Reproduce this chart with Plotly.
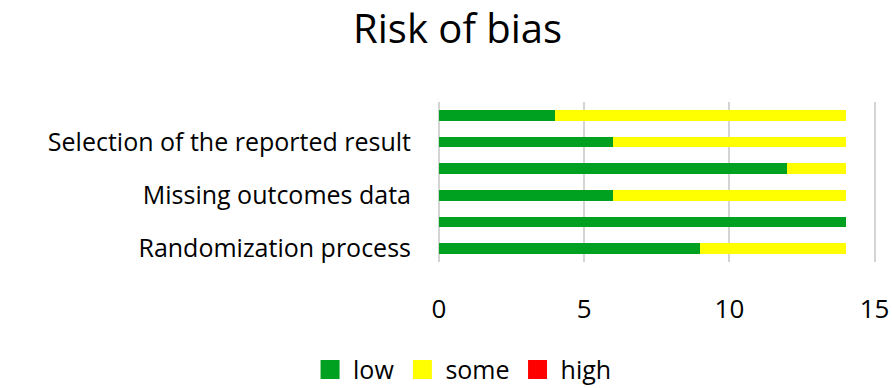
import plotly.graph_objects as go

# Risk-of-bias domains, listed bottom to top
domains = [
    "Randomization process",
    "Deviations from intended interventions",
    "Missing outcomes data",
    "Measurement of the outcome",
    "Selection of the reported result",
    "Overall",
]
low = [9, 14, 6, 12, 6, 4]
some = [5, 0, 8, 2, 8, 10]
high = [0, 0, 0, 0, 0, 0]

# only every other domain gets a visible label
shown_labels = [domains[0], domains[2], domains[4]]
x_ticks = [0, 5, 10, 15]

colors = {"low": "#00a020", "some": "#ffff00", "high": "#ff0000"}
FONT = "Open Sans"
GRID = "#d4d4d4"

fig = go.Figure()
for name, vals in (("low", low), ("some", some), ("high", high)):
    fig.add_trace(go.Bar(
        y=domains, x=vals, name=name, orientation="h",
        marker=dict(color=colors[name], line=dict(width=0)),
        showlegend=False,
    ))
    # legend entry with a larger square swatch (outline in the same colour)
    fig.add_trace(go.Scatter(
        x=[None], y=[None], mode="markers", name=name,
        marker=dict(symbol="square", size=16, color=colors[name],
                    line=dict(color=colors[name], width=3)),
        showlegend=True,
    ))

fig.update_layout(
    width=892, height=388,
    paper_bgcolor="white", plot_bgcolor="white",
    barmode="stack", bargap=0.6,
    margin=dict(l=439, r=16, t=102, b=126, autoexpand=False),
    font=dict(family=FONT, color="#000000"),
    title=dict(text="Risk of bias", x=0.513, xref="container", xanchor="center",
               y=0.925, yref="container", yanchor="middle",
               font=dict(size=40, family=FONT, color="#000000")),
    legend=dict(orientation="h", x=0.518, xanchor="center", xref="container",
                y=0.047, yref="container", yanchor="middle",
                traceorder="normal",
                font=dict(size=25, family=FONT), itemsizing="trace",
                itemwidth=36, tracegroupgap=0),
)
fig.update_xaxes(
    range=[0, 15.05], tickvals=x_ticks, showgrid=True,
    gridcolor=GRID, gridwidth=2,
    zeroline=True, zerolinecolor=GRID, zerolinewidth=2,
    ticks="outside", ticklen=24, tickcolor="rgba(0,0,0,0)",
    tickfont=dict(size=26, family=FONT), showline=False, automargin=False,
)
fig.update_yaxes(
    categoryorder="array", categoryarray=domains,
    tickvals=shown_labels, ticktext=shown_labels,
    tickfont=dict(size=25, family=FONT), showgrid=False,
    ticks="outside", ticklen=22, tickcolor="rgba(0,0,0,0)",
    showline=False, zeroline=False, automargin=False,
)

fig.write_html("out.html")
